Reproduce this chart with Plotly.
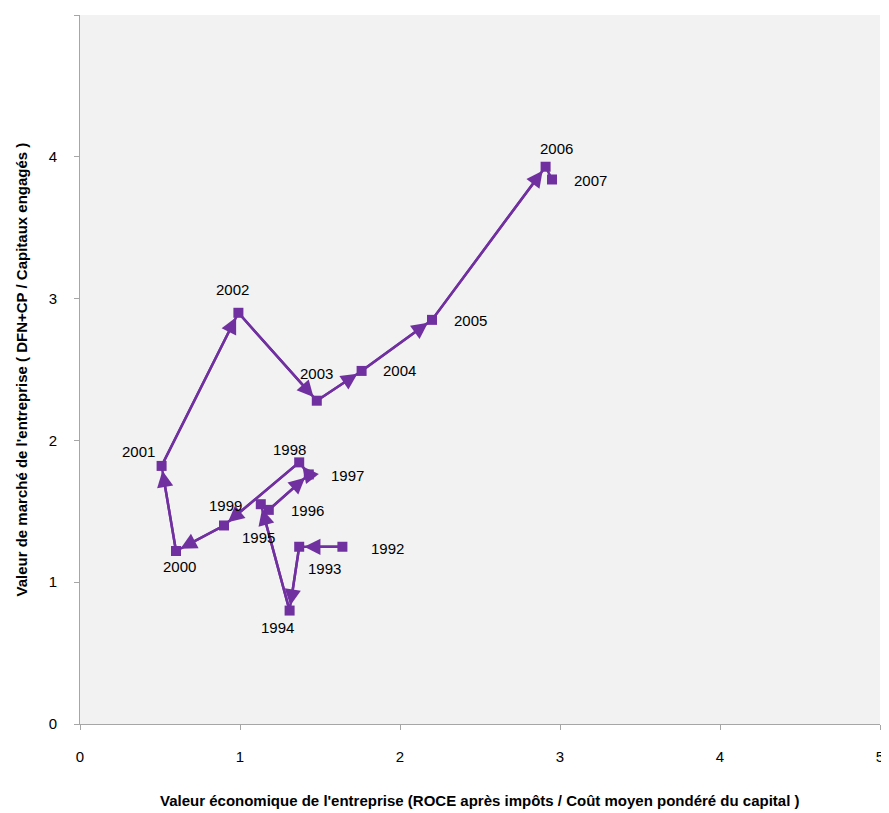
import plotly.graph_objects as go

years = ["1992", "1993", "1994", "1995", "1996", "1997", "1998", "1999",
         "2000", "2001", "2002", "2003", "2004", "2005", "2006", "2007"]
economic_value = [1.64, 1.37, 1.31, 1.13, 1.18, 1.43, 1.37, 0.90,
                  0.60, 0.51, 0.99, 1.48, 1.76, 2.20, 2.91, 2.95]
market_value = [1.25, 1.25, 0.80, 1.55, 1.51, 1.76, 1.845, 1.40,
                1.22, 1.82, 2.90, 2.28, 2.49, 2.85, 3.93, 3.84]
tick_values = [0, 1, 2, 3, 4, 5]
x_title = "Valeur économique de l'entreprise (ROCE après impôts / Coût moyen pondéré du capital )"
y_title = "Valeur de marché de l'entreprise ( DFN+CP / Capitaux engagés )"

# label offsets in pixels (dx right, dy down)
label_offsets = [(45, 2), (25, 22), (-12, 17), (-2, 33), (39, 1), (39, 1),
                 (-10, -13), (1, -20), (3, 15), (-23, -14), (-6, -23),
                 (0, -27), (38, 0), (38, 1), (11, -18), (38, 1)]

PURPLE = "#7030A0"
AXIS = "#A6A6A6"
FONT = "Liberation Sans, Arial, sans-serif"

fig = go.Figure()
fig.add_trace(go.Scatter(
    x=economic_value, y=market_value, mode="lines+markers",
    line=dict(color=PURPLE, width=2.5),
    marker=dict(symbol="square", size=10, color=PURPLE),
    hoverinfo="text", text=years, showlegend=False,
))

annotations = []
# arrowheads along the path, except for the last segment
for i in range(1, len(years) - 1):
    annotations.append(dict(
        x=economic_value[i], y=market_value[i],
        ax=economic_value[i - 1], ay=market_value[i - 1],
        xref="x", yref="y", axref="x", ayref="y",
        text="", showarrow=True, arrowhead=2, arrowsize=1.3,
        arrowwidth=2.5, arrowcolor=PURPLE, standoff=5, startstandoff=0,
    ))

for yr, xv, yv, (dx, dy) in zip(years, economic_value, market_value, label_offsets):
    annotations.append(dict(
        x=xv, y=yv, xref="x", yref="y", text=yr, showarrow=False,
        xshift=dx, yshift=-dy, xanchor="center", yanchor="middle",
        font=dict(family=FONT, size=15, color="#000000"),
    ))

# axis titles
annotations.append(dict(
    x=0.5, y=0, xref="paper", yref="paper", yshift=-76,
    text="<b>" + x_title + "</b>", showarrow=False,
    xanchor="center", yanchor="middle",
    font=dict(family=FONT, size=15, color="#000000"),
))
annotations.append(dict(
    x=0, y=0.5, xref="paper", yref="paper", xshift=-59,
    text="<b>" + y_title + "</b>", showarrow=False, textangle=-90,
    xanchor="center", yanchor="middle",
    font=dict(family=FONT, size=15, color="#000000"),
))

# page body has an 8px default margin, so the figure is sized to fit the window
fig.update_layout(
    width=881, height=805,
    paper_bgcolor="white", plot_bgcolor="#F2F2F2",
    margin=dict(l=72, r=9, t=7, b=89, autoexpand=False),
    annotations=annotations,
    font=dict(family=FONT, size=15, color="#000000"),
)
fig.update_xaxes(
    range=[0, 5], tickvals=tick_values, showgrid=False, zeroline=False,
    showline=True, linecolor=AXIS, linewidth=1, automargin=False,
    ticks="outside", ticklen=5, tickcolor=AXIS, ticklabelstandoff=14,
    tickfont=dict(family=FONT, size=15),
)
fig.update_yaxes(
    range=[0, 5], tickvals=tick_values, showgrid=False, zeroline=False,
    showline=True, linecolor=AXIS, linewidth=1, automargin=False,
    ticks="outside", ticklen=5, tickcolor=AXIS, ticklabelstandoff=14,
    tickfont=dict(family=FONT, size=15),
)

fig.write_html("out.html")
